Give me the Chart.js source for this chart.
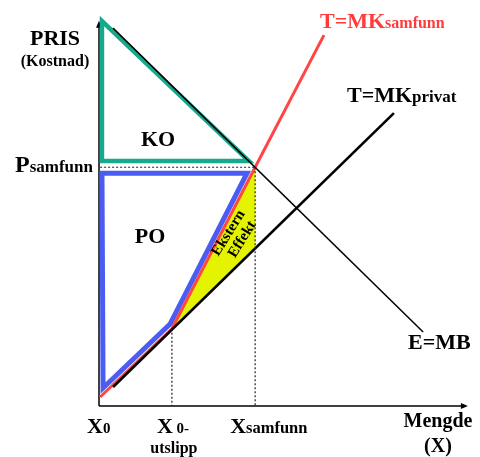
<!DOCTYPE html>
<html>
<head>
<meta charset="utf-8">
<script src="https://cdn.jsdelivr.net/npm/chart.js@4.4.1/dist/chart.umd.min.js"></script>
<style>
html,body{margin:0;padding:0;background:#fff;}
#wrap{position:relative;width:480px;height:457px;}
</style>
</head>
<body>
<div id="wrap"><canvas id="c"></canvas></div>
<script>
// ---- values (x: quantity 0..100, y: price 0..100) ----
const X_TICK_VALUES = [0, 19.7, 42.2];
const X_TICK_LABELS = [["X", "0"], ["X ", "0-"], ["X", "samfunn"]];
const P_SAMFUNN = 60.9;

// E=MB (demand)
const mbX = [3.8, 87.6];
const mbY = [96.4, 18.9];
// T=MK privat
const mkPrivX = [3.8, 79.7];
const mkPrivY = [4.85, 74.7];
// T=MK samfunn
const mkSamX = [0.3, 19.7, 42.2, 60.8];
const mkSamY = [2.3, 19.7, 60.9, 94.6];
// KO (consumer surplus) triangle
const koX = [0.8, 0.8, 40.5, 0.8, 0.8];
const koY = [98.2, 62.5, 62.5, 98.2, 62.5];
// PO (producer surplus) polygon
const poX = [0.8, 40.0, 19.2, 1.1, 0.8, 40.0];
const poY = [59.4, 59.4, 20.9, 4.6, 59.4, 59.4];
// Ekstern effekt area
const extX = [19.7, 42.2, 42.2, 19.7];
const extY = [19.7, 60.9, 40.2, 19.7];

const pts = (xs, ys) => xs.map((x, i) => ({x: x, y: ys[i]}));

const SERIF = "'Liberation Serif', 'Times New Roman', serif";

function runs(ctx, x, y, parts, color, align) {
  ctx.fillStyle = color;
  ctx.textBaseline = 'alphabetic';
  ctx.textAlign = 'left';
  let total = 0;
  parts.forEach(p => { ctx.font = 'bold ' + p[1] + 'px ' + SERIF; total += ctx.measureText(p[0]).width; });
  let cx = align === 'center' ? x - total / 2 : x;
  parts.forEach(p => {
    ctx.font = 'bold ' + p[1] + 'px ' + SERIF;
    ctx.fillText(p[0], cx, y);
    cx += ctx.measureText(p[0]).width;
  });
}

const annot = {
  id: 'annot',
  beforeDatasetsDraw(chart) {
    const ctx = chart.ctx, xs = chart.scales.x, ys = chart.scales.y;
    const ox = xs.getPixelForValue(0), oy = ys.getPixelForValue(0);
    const top = ys.getPixelForValue(98.3), right = xs.getPixelForValue(99.7);
    ctx.save();
    ctx.strokeStyle = '#000'; ctx.fillStyle = '#000'; ctx.lineWidth = 1.5;
    ctx.beginPath(); ctx.moveTo(ox, oy); ctx.lineTo(ox, top + 4); ctx.stroke();
    ctx.beginPath(); ctx.moveTo(ox, oy); ctx.lineTo(right - 4, oy); ctx.stroke();
    ctx.beginPath(); ctx.moveTo(ox, top); ctx.lineTo(ox - 3, top + 7); ctx.lineTo(ox + 3, top + 7); ctx.closePath(); ctx.fill();
    ctx.beginPath(); ctx.moveTo(right, oy); ctx.lineTo(right - 7, oy - 3); ctx.lineTo(right - 7, oy + 3); ctx.closePath(); ctx.fill();
    ctx.restore();
  },
  afterDatasetsDraw(chart) {
    const ctx = chart.ctx, xs = chart.scales.x, ys = chart.scales.y;
    ctx.save();
    const ox = xs.getPixelForValue(0), oy = ys.getPixelForValue(0);
    // y axis title
    runs(ctx, 55, 45, [["PRIS", 22]], '#000', 'center');
    runs(ctx, 55, 66, [["(Kostnad)", 16]], '#000', 'center');
    // price label
    const py = ys.getPixelForValue(P_SAMFUNN);
    runs(ctx, 15, py + 5, [["P", 24], ["samfunn", 17]], '#000', 'left');
    // x tick labels
    const xl = [
      {dx: -12, parts: [["X", 22], ["0", 15]]},
      {dx: -15, parts: [["X", 22], [" 0-", 15]]},
      {dx: -25, parts: [["X", 22], ["samfunn", 16.5]]}
    ];
    X_TICK_VALUES.forEach((v, i) => {
      const px = xs.getPixelForValue(v);
      runs(ctx, px + xl[i].dx, oy + 27, xl[i].parts, '#000', 'left');
    });
    runs(ctx, xs.getPixelForValue(X_TICK_VALUES[1]) + 2, oy + 47, [["utslipp", 16]], '#000', 'center');
    // x axis title
    runs(ctx, 438, 427, [["Mengde", 20]], '#000', 'center');
    runs(ctx, 438, 452, [["(X)", 20]], '#000', 'center');
    // curve labels
    runs(ctx, 320, 28, [["T=MK", 22], ["samfunn", 16]], '#ff3b3b', 'left');
    runs(ctx, 347, 102, [["T=MK", 22], ["privat", 17]], '#000', 'left');
    runs(ctx, 408, 349, [["E=MB", 22]], '#000', 'left');
    // area labels
    runs(ctx, 158, 146, [["KO", 22]], '#000', 'center');
    runs(ctx, 150, 243, [["PO", 22]], '#000', 'center');
    // Ekstern effekt (rotated)
    ctx.translate(235, 236);
    ctx.rotate(-58 * Math.PI / 180);
    ctx.fillStyle = '#000';
    ctx.font = 'bold 15px ' + SERIF;
    ctx.textAlign = 'center'; ctx.textBaseline = 'middle';
    ctx.fillText('Ekstern', -1, -7);
    ctx.fillText('Effekt', 1, 8);
    ctx.restore();
  }
};

const lineDs = (data, color, width, extra) => Object.assign({
  data: data, showLine: true, borderColor: color, borderWidth: width,
  pointRadius: 0, fill: false, borderJoinStyle: 'miter', tension: 0
}, extra || {});

new Chart(document.getElementById('c'), {
  type: 'scatter',
  data: {
    datasets: [
      lineDs([{x: 0.3, y: P_SAMFUNN}, {x: X_TICK_VALUES[2], y: P_SAMFUNN}], '#222', 1.2, {borderDash: [2, 2]}),
      lineDs([{x: X_TICK_VALUES[2], y: P_SAMFUNN}, {x: X_TICK_VALUES[2], y: 0}], '#222', 1.2, {borderDash: [2, 2]}),
      lineDs([{x: X_TICK_VALUES[1], y: 19.7}, {x: X_TICK_VALUES[1], y: 0}], '#222', 1.2, {borderDash: [2, 2]}),
      lineDs(pts(mbX, mbY), '#000', 1.5),
      lineDs(pts(mkPrivX, mkPrivY), '#000', 2.6),
      lineDs(pts(mkSamX, mkSamY), '#ff4545', 3),
      lineDs(pts(poX, poY), '#4a5cf2', 5),
      lineDs(pts(koX, koY), '#16a98b', 4.5),
      lineDs(pts(extX, extY), 'rgba(0,0,0,0)', 0, {fill: 'shape', backgroundColor: '#e4f400'})
    ]
  },
  options: {
    responsive: true,
    maintainAspectRatio: false,
    animation: false,
    events: [],
    layout: {padding: {left: 99, right: 11, top: 14, bottom: 51}},
    plugins: {legend: {display: false}, tooltip: {enabled: false}},
    scales: {
      x: {type: 'linear', min: 0, max: 100, display: false},
      y: {type: 'linear', min: 0, max: 100, display: false}
    },
    elements: {line: {clip: false}}
  },
  plugins: [annot]
});
</script>
</body>
</html>
